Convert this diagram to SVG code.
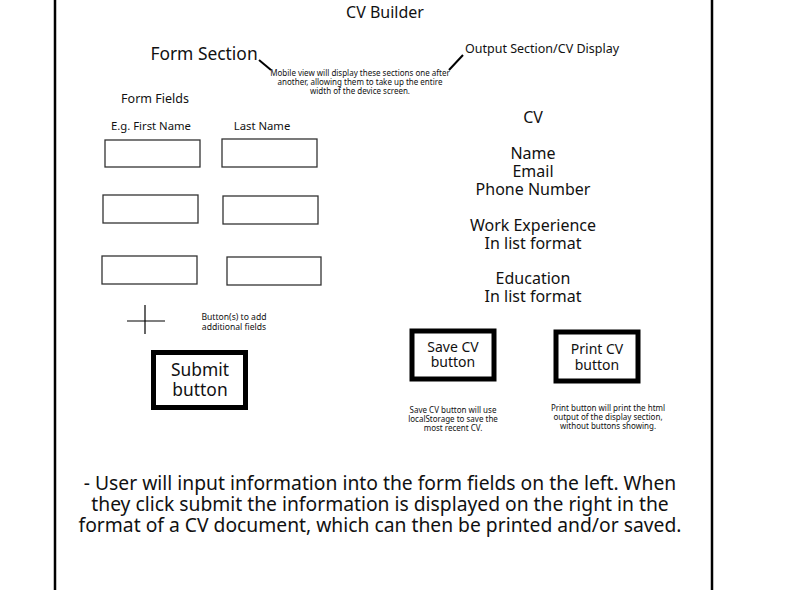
<svg xmlns="http://www.w3.org/2000/svg" width="800" height="590" viewBox="0 0 800 590">
  <style>
    text { font-family: "Source Sans Pro", "Noto Sans", "Liberation Sans", sans-serif; fill: #111; text-anchor: middle; }
    .field { fill: #fff; stroke: #333; stroke-width: 1.3; }
    .btn { fill: #fff; stroke: #000; stroke-width: 5; }
    .line { stroke: #000; fill: none; }
    .t8 { font-size: 8px; }
    .t9 { font-size: 8.6px; }
    .t11 { font-size: 11.3px; }
    .t12 { font-size: 12.5px; }
    .t14 { font-size: 14px; }
    .t16 { font-size: 16px; }
    .t17 { font-size: 17.4px; }
    .t19 { font-size: 19.3px; }
  </style>
  <rect width="800" height="590" fill="#fff"/>

  <!-- page frame -->
  <g id="frame">
    <line class="line" x1="55" y1="0" x2="55" y2="590" stroke-width="2.5"/>
    <line class="line" x1="712" y1="0" x2="712" y2="590" stroke-width="2.5"/>
  </g>

  <g id="title"><text class="t16" x="385" y="18">CV Builder</text></g>

  <g id="form-section"><text class="t17" x="204" y="60">Form Section</text></g>
  <g id="output-section"><text class="t12" x="542" y="53">Output Section/CV Display</text></g>
  <g id="mobile-note">
    <text class="t8" x="360" y="76">Mobile view will display these sections one after</text>
    <text class="t8" x="360" y="85">another, allowing them to take up the entire</text>
    <text class="t8" x="360" y="94">width of the device screen.</text>
  </g>

  <!-- connectors -->
  <g id="connectors">
    <line class="line" x1="259" y1="60" x2="271" y2="70" stroke-width="2"/>
    <line class="line" x1="463" y1="55" x2="449" y2="70" stroke-width="2"/>
  </g>

  <g id="form-fields">
    <text class="t12" x="155" y="103">Form Fields</text>
    <text class="t11" x="151" y="130">E.g. First Name</text>
    <text class="t11" x="262" y="130">Last Name</text>
    <rect class="field" x="105" y="140" width="95" height="27"/>
    <rect class="field" x="222" y="139" width="95" height="28"/>
    <rect class="field" x="103" y="195" width="95" height="28"/>
    <rect class="field" x="223" y="196" width="95" height="28"/>
    <rect class="field" x="102" y="256" width="95" height="28"/>
    <rect class="field" x="227" y="257" width="94" height="28"/>
  </g>

  <g id="add-fields">
    <line class="line" x1="127" y1="321" x2="165" y2="321" stroke-width="1.2"/>
    <line class="line" x1="145" y1="305" x2="145" y2="334" stroke-width="1.2"/>
    <text class="t9" x="234" y="320">Button(s) to add</text>
    <text class="t9" x="234" y="330">additional fields</text>
  </g>

  <g id="submit-button">
    <rect class="btn" x="153.5" y="352.5" width="92" height="55"/>
    <text class="t17" x="200" y="376">Submit</text>
    <text class="t17" x="200" y="396">button</text>
  </g>

  <g id="cv-display">
    <text class="t16" x="533" y="123">CV</text>
    <text class="t16" x="533" y="159">Name</text>
    <text class="t16" x="533" y="177">Email</text>
    <text class="t16" x="533" y="195">Phone Number</text>
    <text class="t16" x="533" y="231">Work Experience</text>
    <text class="t16" x="533" y="249">In list format</text>
    <text class="t16" x="533" y="284">Education</text>
    <text class="t16" x="533" y="302">In list format</text>
  </g>

  <g id="save-button">
    <rect class="btn" x="412" y="331" width="82" height="48" stroke-width="4"/>
    <text class="t14" x="453" y="352">Save CV</text>
    <text class="t14" x="453" y="367">button</text>
    <text class="t8" x="453" y="413">Save CV button will use</text>
    <text class="t8" x="453" y="422">localStorage to save the</text>
    <text class="t8" x="453" y="431">most recent CV.</text>
  </g>

  <g id="print-button">
    <rect class="btn" x="556" y="332" width="82" height="49" stroke-width="4"/>
    <text class="t14" x="597" y="354">Print CV</text>
    <text class="t14" x="597" y="370">button</text>
    <text class="t8" x="608" y="411">Print button will print the html</text>
    <text class="t8" x="608" y="420">output of the display section,</text>
    <text class="t8" x="608" y="429">without buttons showing.</text>
  </g>

  <g id="summary">
    <text class="t19" x="380" y="490">- User will input information into the form fields on the left. When</text>
    <text class="t19" x="380" y="511">they click submit the information is displayed on the right in the</text>
    <text class="t19" x="380" y="532">format of a CV document, which can then be printed and/or saved.</text>
  </g>
</svg>
